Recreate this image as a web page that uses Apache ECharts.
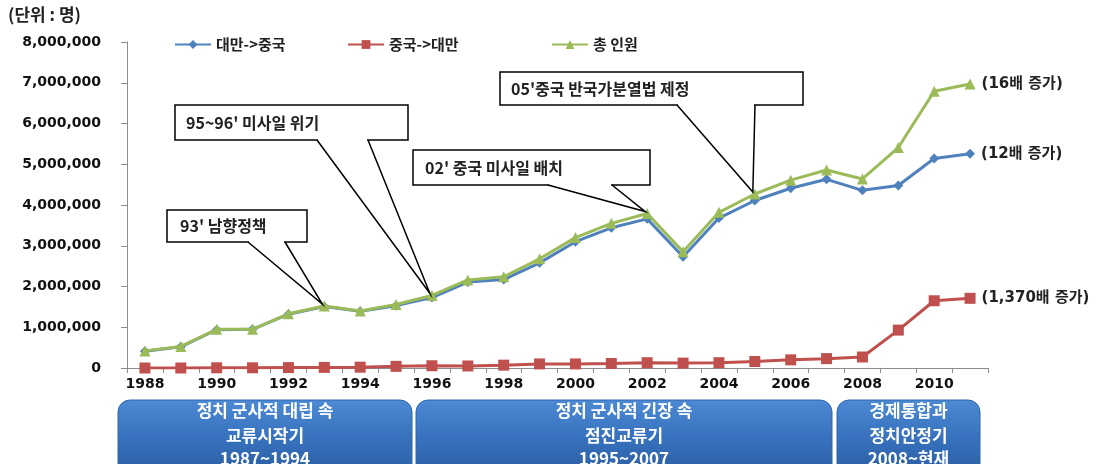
<!DOCTYPE html>
<html><head><meta charset="utf-8">
<script src="https://cdn.jsdelivr.net/npm/echarts@6/dist/echarts.min.js"></script>
<style>html,body{margin:0;padding:0;background:#fff}#c{width:1100px;height:464px}</style>
</head><body><div id="c"></div>
<script>
const years = ['1988','1989','1990','1991','1992','1993','1994','1995','1996','1997','1998','1999','2000','2001','2002','2003','2004','2005','2006','2007','2008','2009','2010','2011'];
const taiwanToChina = [410000,520000,940000,950000,1320000,1510000,1390000,1530000,1730000,2110000,2170000,2580000,3100000,3440000,3660000,2730000,3680000,4110000,4410000,4630000,4360000,4480000,5140000,5260000];
const chinaToTaiwan = [0,0,5000,5000,10000,15000,20000,40000,55000,50000,70000,100000,100000,110000,130000,120000,130000,160000,200000,230000,270000,930000,1650000,1710000];
const total = [420000,530000,950000,950000,1330000,1520000,1400000,1560000,1780000,2160000,2240000,2680000,3200000,3550000,3790000,2850000,3820000,4270000,4610000,4860000,4640000,5410000,6790000,6970000];
const seriesNames = ['대만->중국','중국->대만','총 인원'];
const endLabels = ['(12배 증가)','(1,370배 증가)','(16배 증가)'];
const yTicks = [0,1000000,2000000,3000000,4000000,5000000,6000000,7000000,8000000];
const unitLabel = '(단위 : 명)';
const periods = [
  {lines:['정치 군사적 대립 속','교류시작기','1987~1994']},
  {lines:['정치 군사적 긴장 속','점진교류기','1995~2007']},
  {lines:['경제통합과','정치안정기','2008~현재']}
];
const callouts = [
  {text:"93' 남향정책", year:'1993'},
  {text:"95~96' 미사일 위기", year:'1996'},
  {text:"02' 중국 미사일 배치", year:'2002'},
  {text:"05'중국 반국가분열법 제정", year:'2005'}
];

const FONT = '"DejaVu Sans","Noto Sans CJK KR",sans-serif';
const KFONT = '"Noto Sans CJK KR","DejaVu Sans",sans-serif';
const colors = ['#4F81BD','#C0504D','#9BBB59'];
const symbols = ['diamond','rect','triangle'];
const symSizes = [10,11,11];
const seriesData = [taiwanToChina, chinaToTaiwan, total];

const chart = echarts.init(document.getElementById('c'), null, {renderer:'canvas'});
const last = years.length - 1;

const legendPos = [169, 342, 546];
const option = {
  animation:false,
  backgroundColor:'#fff',
  grid:{left:127, right:112, top:42, bottom:96, containLabel:false},
  legend: seriesNames.map((n,i)=>({
    data:[n], left:legendPos[i], top:32, itemWidth:36, itemHeight:11, itemGap:4,
    textStyle:{fontFamily:KFONT, fontWeight:'bold', fontSize:15, color:'#222'}
  })),
  xAxis:{
    type:'category', data:years, boundaryGap:true,
    axisLine:{lineStyle:{color:'#8c8c8c', width:1}},
    axisTick:{show:true, interval:0, length:5, lineStyle:{color:'#8c8c8c'}},
    axisLabel:{interval:1, margin:9, fontFamily:FONT, fontWeight:'bold', fontSize:14, color:'#111'}
  },
  yAxis:{
    type:'value', min:yTicks[0], max:yTicks[yTicks.length-1], interval:yTicks[1]-yTicks[0],
    splitLine:{show:false},
    axisLine:{show:true, lineStyle:{color:'#8c8c8c'}},
    axisTick:{show:true, length:6, lineStyle:{color:'#8c8c8c'}},
    axisLabel:{margin:26, fontFamily:FONT, fontWeight:'bold', fontSize:14, color:'#111',
      formatter:v=>v.toLocaleString('en-US')}
  },
  series: seriesNames.map((n,i)=>({
    name:n, type:'line', data:seriesData[i], z:[2,3,4][i],
    symbol:symbols[i], symbolSize:symSizes[i], showAllSymbol:true,
    lineStyle:{color:colors[i], width:3},
    itemStyle:{color:colors[i]},
    label:{show:true, position:'right', distance:6, fontFamily:FONT, fontWeight:'bold', fontSize:15, color:'#222',
      formatter:p=>p.dataIndex===last?endLabels[i]:''}
  }))
};
chart.setOption(option);

const g = [];
g.push({type:'text', left:8, top:6, style:{text:unitLabel, font:'bold 17px '+KFONT, fill:'#222'}});

const bands = [[118,412],[416,832],[837,980]];
bands.forEach((b,i)=>{
  g.push({type:'rect', shape:{x:b[0], y:400, width:b[1]-b[0], height:80, r:12},
    style:{fill:new echarts.graphic.LinearGradient(0,0,0,1,[{offset:0,color:'#4D8AD4'},{offset:0.5,color:'#3670BC'},{offset:1,color:'#2A5C9F'}]),
      stroke:'#2F66AE', lineWidth:1}});
  periods[i].lines.forEach((t,j)=>{
    g.push({type:'text', style:{text:t, x:(b[0]+b[1])/2, y:[411,436,459][j], align:'center', verticalAlign:'middle',
      font:'bold 17px '+KFONT, fill:'#fff'}});
  });
});

const boxes = [
  {x:167,y:210,w:140,h:32,b1:248,b2:285,tx:180},
  {x:175,y:105,w:233,h:35,b1:317,b2:368,tx:186},
  {x:413,y:150,w:237,h:35,b1:548,b2:612,tx:425},
  {x:500,y:72,w:303,h:33,b1:677,b2:755,tx:511}
];
callouts.forEach((c,i)=>{
  const bx = boxes[i];
  const idx = years.indexOf(c.year);
  const p = chart.convertToPixel({seriesIndex:2}, [idx, total[idx]]);
  const tip = [p[0]-2, p[1]-2];
  g.push({type:'rect', z:100, shape:{x:bx.x, y:bx.y, width:bx.w, height:bx.h}, style:{fill:'#fff', stroke:'#000', lineWidth:1.5}});
  g.push({type:'rect', z:101, shape:{x:bx.b1+1, y:bx.y+bx.h-1, width:bx.b2-bx.b1-2, height:2}, style:{fill:'#fff'}});
  g.push({type:'polyline', z:102, shape:{points:[[bx.b1, bx.y+bx.h],tip,[bx.b2, bx.y+bx.h]]}, style:{stroke:'#000', lineWidth:1.5, fill:null}});
  g.push({type:'text', z:103, style:{text:c.text, x:bx.tx, y:bx.y+bx.h/2, verticalAlign:'middle', font:'bold 16px '+KFONT, fill:'#222'}});
});
chart.setOption({graphic:g});
</script></body></html>
